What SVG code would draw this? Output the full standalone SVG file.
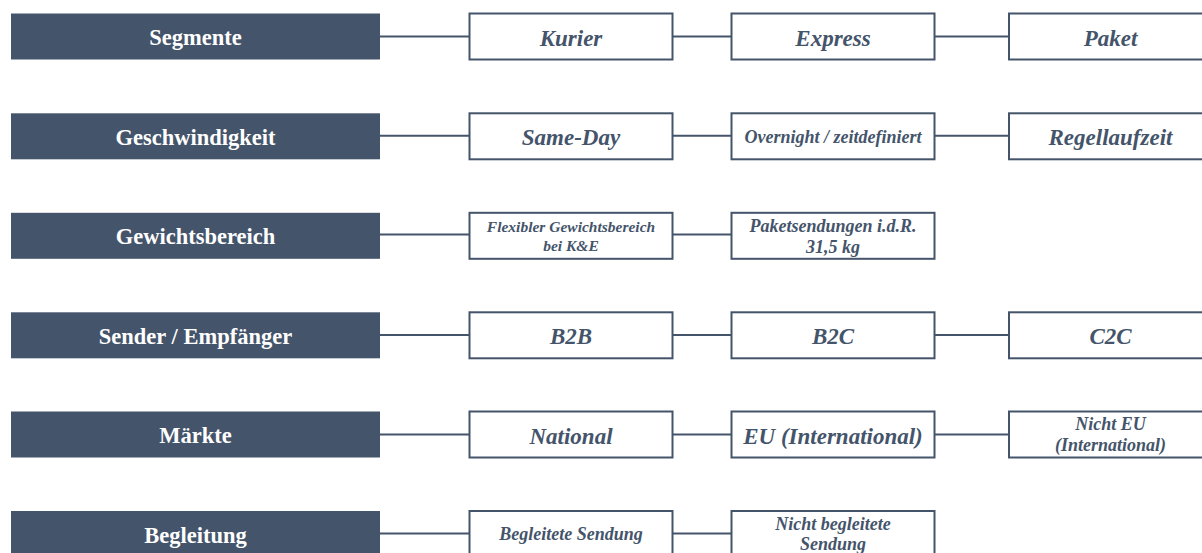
<svg xmlns="http://www.w3.org/2000/svg" width="1202" height="553" viewBox="0 0 1202 553">
<style>
.hdr{fill:#44546A;}
.hdrt{fill:#FFFFFF;font-family:"Liberation Serif","Times New Roman",serif;font-weight:bold;font-size:22.5px;text-anchor:middle;}
.box{fill:#FFFFFF;stroke:#44546A;stroke-width:2;}
.bt{fill:#44546A;font-family:"Liberation Serif","Times New Roman",serif;font-weight:bold;font-style:italic;font-size:23px;text-anchor:middle;}
.bs{fill:#44546A;font-family:"Liberation Serif","Times New Roman",serif;font-weight:bold;font-style:italic;font-size:18px;text-anchor:middle;}
.bx{fill:#44546A;font-family:"Liberation Serif","Times New Roman",serif;font-weight:bold;font-style:italic;font-size:15.5px;text-anchor:middle;}
.con{stroke:#44546A;stroke-width:2;fill:none;}
</style>
<rect width="1202" height="553" fill="#FFFFFF"/>
<g id="connectors">
<line class="con" x1="380" y1="36.5" x2="469.5" y2="36.5"/>
<line class="con" x1="672.5" y1="36.5" x2="731.5" y2="36.5"/>
<line class="con" x1="934.5" y1="36.5" x2="1009" y2="36.5"/>
<line class="con" x1="380" y1="135.8" x2="469.5" y2="135.8"/>
<line class="con" x1="672.5" y1="135.8" x2="731.5" y2="135.8"/>
<line class="con" x1="934.5" y1="135.8" x2="1009" y2="135.8"/>
<line class="con" x1="380" y1="234.5" x2="469.5" y2="234.5"/>
<line class="con" x1="672.5" y1="234.5" x2="731.5" y2="234.5"/>
<line class="con" x1="380" y1="335" x2="469.5" y2="335"/>
<line class="con" x1="672.5" y1="335" x2="731.5" y2="335"/>
<line class="con" x1="934.5" y1="335" x2="1009" y2="335"/>
<line class="con" x1="380" y1="434.5" x2="469.5" y2="434.5"/>
<line class="con" x1="672.5" y1="434.5" x2="731.5" y2="434.5"/>
<line class="con" x1="934.5" y1="434.5" x2="1009" y2="434.5"/>
<line class="con" x1="380" y1="533.5" x2="469.5" y2="533.5"/>
<line class="con" x1="672.5" y1="533.5" x2="731.5" y2="533.5"/>
</g>
<g id="h-segmente"><rect class="hdr" x="11" y="13.5" width="369" height="46"/><text class="hdrt" x="195.5" y="45">Segmente</text></g>
<g id="h-geschwindigkeit"><rect class="hdr" x="11" y="113.3" width="369" height="46"/><text class="hdrt" x="195.5" y="144.8">Geschwindigkeit</text></g>
<g id="h-gewichtsbereich"><rect class="hdr" x="11" y="212.8" width="369" height="46"/><text class="hdrt" x="195.5" y="244.3">Gewichtsbereich</text></g>
<g id="h-sender"><rect class="hdr" x="11" y="312.3" width="369" height="46"/><text class="hdrt" x="195.5" y="343.8">Sender / Empfänger</text></g>
<g id="h-maerkte"><rect class="hdr" x="11" y="411.5" width="369" height="46"/><text class="hdrt" x="195.5" y="443">Märkte</text></g>
<g id="h-begleitung"><rect class="hdr" x="11" y="511" width="369" height="46"/><text class="hdrt" x="195.5" y="542.5">Begleitung</text></g>

<g id="n-kurier"><rect class="box" x="469.5" y="13.5" width="203" height="46"/><text class="bt" x="571" y="45.5">Kurier</text></g>
<g id="n-express"><rect class="box" x="731.5" y="13.5" width="203" height="46"/><text class="bt" x="833" y="45.5">Express</text></g>
<g id="n-paket"><rect class="box" x="1009" y="13.5" width="203" height="46"/><text class="bt" x="1110.5" y="45.5">Paket</text></g>

<g id="n-sameday"><rect class="box" x="469.5" y="113.3" width="203" height="46"/><text class="bt" x="571" y="145.3">Same-Day</text></g>
<g id="n-overnight"><rect class="box" x="731.5" y="113.3" width="203" height="46"/><text class="bs" x="833" y="143">Overnight / zeitdefiniert</text></g>
<g id="n-regellaufzeit"><rect class="box" x="1009" y="113.3" width="203" height="46"/><text class="bt" x="1110.5" y="145.3">Regellaufzeit</text></g>

<g id="n-flexibel"><rect class="box" x="469.5" y="212.8" width="203" height="46"/><text class="bx" x="571" y="232.3">Flexibler Gewichtsbereich</text><text class="bx" x="571" y="251">bei K&amp;E</text></g>
<g id="n-paketsendungen"><rect class="box" x="731.5" y="212.8" width="203" height="46"/><text class="bs" x="833" y="231.5">Paketsendungen i.d.R.</text><text class="bs" x="833" y="252.5">31,5 kg</text></g>

<g id="n-b2b"><rect class="box" x="469.5" y="312.3" width="203" height="46"/><text class="bt" x="571" y="344.3">B2B</text></g>
<g id="n-b2c"><rect class="box" x="731.5" y="312.3" width="203" height="46"/><text class="bt" x="833" y="344.3">B2C</text></g>
<g id="n-c2c"><rect class="box" x="1009" y="312.3" width="203" height="46"/><text class="bt" x="1110.5" y="344.3">C2C</text></g>

<g id="n-national"><rect class="box" x="469.5" y="411.5" width="203" height="46"/><text class="bt" x="571" y="443.5">National</text></g>
<g id="n-eu"><rect class="box" x="731.5" y="411.5" width="203" height="46"/><text class="bt" x="833" y="443.5">EU (International)</text></g>
<g id="n-nichteu"><rect class="box" x="1009" y="411.5" width="203" height="46"/><text class="bs" x="1110.5" y="430">Nicht EU</text><text class="bs" x="1110.5" y="451">(International)</text></g>

<g id="n-begleitet"><rect class="box" x="469.5" y="511" width="203" height="46"/><text class="bs" x="571" y="540">Begleitete Sendung</text></g>
<g id="n-nichtbegleitet"><rect class="box" x="731.5" y="511" width="203" height="46"/><text class="bs" x="833" y="529.5">Nicht begleitete</text><text class="bs" x="833" y="550">Sendung</text></g>
</svg>
